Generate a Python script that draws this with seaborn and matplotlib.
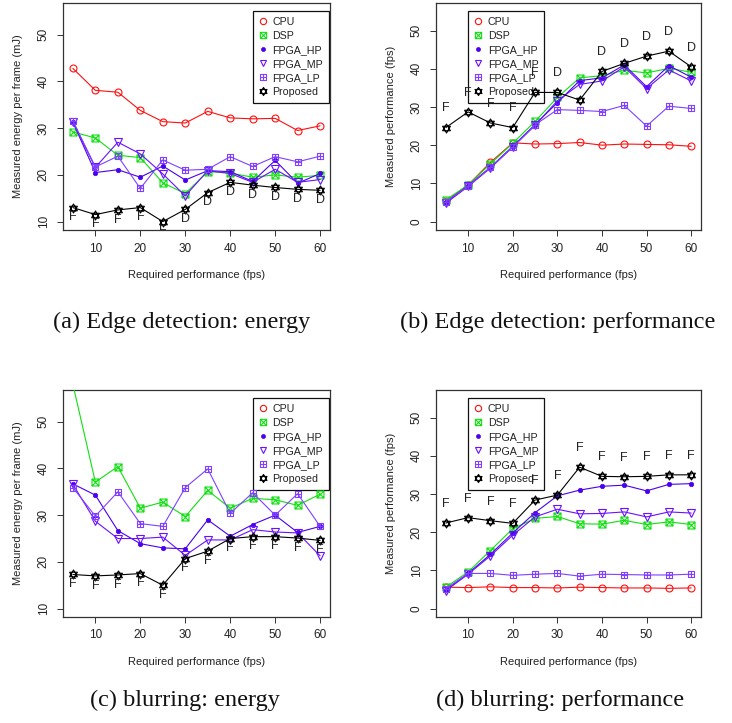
import numpy as np
import pandas as pd
import matplotlib
matplotlib.use("Agg")
import matplotlib.pyplot as plt
import seaborn as sns
from matplotlib.path import Path
from matplotlib.lines import Line2D

sns.set_style("white")
plt.rcParams['font.family'] = ['Liberation Sans', 'DejaVu Sans']

# ---------------- data ----------------
fps = [5, 10, 15, 20, 25, 30, 35, 40, 45, 50, 55, 60]
series_names = ["CPU", "DSP", "FPGA_HP", "FPGA_MP", "FPGA_LP", "Proposed"]

# (a) Edge detection: energy (mJ)
a_cpu = [42.8, 38.1, 37.7, 33.8, 31.4, 31.1, 33.6, 32.2, 32.0, 32.1, 29.5, 30.5]
a_dsp = [29.2, 27.9, 24.2, 23.7, 18.3, 16.0, 20.7, 20.4, 19.5, 20.0, 19.5, 19.9]
a_hp = [31.3, 20.5, 21.1, 19.5, 21.9, 18.9, 20.9, 20.7, 18.6, 23.1, 18.2, 20.3]
a_mp = [31.3, 21.6, 27.0, 24.5, 20.2, 15.5, 20.9, 20.3, 18.4, 21.2, 18.4, 19.0]
a_lp = [31.6, 21.7, 24.0, 17.1, 23.2, 21.0, 21.2, 23.9, 21.8, 23.9, 22.8, 24.0]
a_prop = [13.0, 11.5, 12.5, 13.0, 10.0, 12.6, 16.2, 18.4, 17.8, 17.3, 16.9, 16.7]
a_lbl = ["F", "F", "F", "F", "F", "D", "D", "D", "D", "D", "D", "D"]

# (b) Edge detection: performance (fps)
b_cpu = [5.3, 9.6, 15.5, 20.6, 20.3, 20.4, 20.7, 20.0, 20.3, 20.2, 20.1, 19.7]
b_dsp = [5.7, 9.6, 15.1, 20.5, 26.2, 32.5, 37.6, 38.2, 39.6, 38.9, 40.1, 39.1]
b_hp = [5.0, 9.4, 14.2, 19.7, 25.4, 31.1, 36.9, 37.6, 41.0, 35.3, 40.8, 37.8]
b_mp = [4.8, 9.2, 14.0, 19.5, 25.2, 31.6, 35.9, 36.8, 40.5, 34.8, 39.7, 36.8]
b_lp = [5.2, 9.3, 14.2, 19.5, 25.3, 29.3, 29.1, 28.8, 30.4, 25.0, 30.2, 29.6]
b_prop = [24.6, 28.7, 25.8, 24.6, 33.8, 33.8, 31.8, 39.3, 41.4, 43.3, 44.6, 40.5]
b_lbl = ["F", "F", "F", "F", "F", "D", "", "D", "D", "D", "D", "D"]

# (c) blurring: energy (mJ)  (CPU lies above the visible range)
c_cpu = [75.0, 72.0, 70.0, 68.0, 66.0, 65.0, 64.0, 63.0, 63.0, 62.0, 62.0, 62.0]
c_dsp = [58.0, 37.1, 40.4, 31.5, 32.8, 29.7, 35.3, 31.5, 33.6, 33.3, 32.1, 34.5]
c_hp = [36.7, 34.3, 26.7, 23.9, 23.0, 22.8, 29.0, 25.5, 28.0, 30.0, 26.3, 27.6]
c_mp = [36.6, 28.7, 25.0, 25.0, 25.3, 21.4, 24.7, 24.7, 26.9, 26.4, 26.2, 21.3]
c_lp = [35.9, 29.8, 35.0, 28.2, 27.6, 35.9, 39.9, 30.4, 34.8, 30.0, 34.6, 27.6]
c_prop = [17.3, 17.0, 17.2, 17.5, 15.0, 20.7, 22.3, 25.0, 25.4, 25.4, 25.1, 24.6]
c_lbl = ["F"] * 12

# (d) blurring: performance (fps)
d_cpu = [5.6, 5.5, 5.7, 5.5, 5.5, 5.4, 5.6, 5.5, 5.4, 5.4, 5.3, 5.4]
d_dsp = [5.6, 9.6, 15.2, 20.9, 23.6, 24.1, 22.2, 22.1, 23.1, 22.0, 22.7, 22.0]
d_hp = [4.8, 9.2, 14.2, 19.8, 25.1, 29.5, 31.0, 32.0, 32.3, 30.8, 32.5, 32.7]
d_mp = [4.7, 9.0, 13.8, 19.2, 24.0, 26.0, 24.8, 24.9, 25.3, 24.0, 25.3, 25.0]
d_lp = [5.2, 9.2, 9.2, 8.7, 9.0, 9.2, 8.5, 9.0, 8.9, 8.8, 8.8, 9.0]
d_prop = [22.4, 23.8, 23.0, 22.3, 28.4, 29.7, 37.0, 34.6, 34.5, 34.6, 35.0, 35.0]
d_lbl = ["F"] * 12

captions = ["(a) Edge detection: energy", "(b) Edge detection: performance",
            "(c) blurring: energy", "(d) blurring: performance"]
xlabel = "Required performance (fps)"
ylabels = ["Measured energy per frame (mJ)", "Measured performance (fps)",
           "Measured energy per frame (mJ)", "Measured performance (fps)"]

# ---------------- marker shapes ----------------
M, L, C = Path.MOVETO, Path.LINETO, Path.CLOSEPOLY
sq_v = [(-1, -1), (1, -1), (1, 1), (-1, 1), (-1, -1)]
sq_c = [M, L, L, L, C]
sq_x = Path(sq_v + [(-1, -1), (1, 1), (-1, 1), (1, -1)], sq_c + [M, L, M, L])
sq_plus = Path(sq_v + [(0, -1), (0, 1), (-1, 0), (1, 0)], sq_c + [M, L, M, L])
h = np.sqrt(3) / 2
tri_up = [(0, 1), (-h, -0.5), (h, -0.5), (0, 1)]
tri_dn = [(0, -1), (-h, 0.5), (h, 0.5), (0, -1)]
star_david = Path(tri_up + tri_dn, [M, L, L, C, M, L, L, C])

styles = {
    "CPU": dict(color="#FF1010", marker="o", ms=5.0, mfc="none", mew=0.8),
    "DSP": dict(color="#10E010", marker=sq_x, ms=5.0, mfc="none", mew=0.8),
    "FPGA_HP": dict(color="#4A00F0", marker="o", ms=3.2, mfc="#4A00F0", mew=0.5),
    "FPGA_MP": dict(color="#6A10FF", marker="v", ms=5.5, mfc="none", mew=0.8),
    "FPGA_LP": dict(color="#8040FF", marker=sq_plus, ms=5.0, mfc="none", mew=0.8),
    "Proposed": dict(color="#000000", marker=star_david, ms=6.5, mfc="none", mew=0.8),
}

panels = [
    dict(data=[a_cpu, a_dsp, a_hp, a_mp, a_lp, a_prop], lbl=a_lbl, ylim=(10, 55),
         yticks=[10, 20, 30, 40, 50], mode="below", leg="right"),
    dict(data=[b_cpu, b_dsp, b_hp, b_mp, b_lp, b_prop], lbl=b_lbl, ylim=(0, 55),
         yticks=[0, 10, 20, 30, 40, 50], mode="above", leg="left"),
    dict(data=[c_cpu, c_dsp, c_hp, c_mp, c_lp, c_prop], lbl=c_lbl, ylim=(10, 55),
         yticks=[10, 20, 30, 40, 50], mode="below", leg="right"),
    dict(data=[d_cpu, d_dsp, d_hp, d_mp, d_lp, d_prop], lbl=d_lbl, ylim=(0, 55),
         yticks=[0, 10, 20, 30, 40, 50], mode="above", leg="left"),
]

W, H = 732, 723
fig = plt.figure(figsize=(W / 100, H / 100), dpi=100)
fig.patch.set_facecolor("white")

# axes boxes in pixel coords (left, top, right, bottom)
boxes = [(63, 3, 330, 230), (436, 3, 701, 230), (63, 390, 330, 617), (436, 390, 701, 617)]
ylabel_x = [18, 391, 18, 391]
cap_pos = [(182, 322), (558, 322), (185, 700), (560, 700)]
txtc = "#222222"
fs = 8

for i, p in enumerate(panels):
    l, t, r, b = boxes[i]
    ax = fig.add_axes([l / W, 1 - b / H, (r - l) / W, (b - t) / H])
    for name, vals in zip(series_names, p["data"]):
        st = styles[name]
        df = pd.DataFrame({"fps": fps, "val": vals})
        sns.lineplot(data=df, x="fps", y="val", ax=ax, color=st["color"],
                     marker=st["marker"], markersize=st["ms"],
                     markerfacecolor=st["mfc"], markeredgecolor=st["color"],
                     markeredgewidth=st["mew"], linewidth=0.8, legend=False,
                     estimator=None, sort=False, zorder=3)
    prop = p["data"][5]
    for x, y, s in zip(fps, prop, p["lbl"]):
        if not s:
            continue
        if p["mode"] == "below":
            ax.annotate(s, (x, y), xytext=(0, -7), textcoords="offset points",
                        ha="center", va="center", fontsize=fs + 1, color=txtc,
                        clip_on=True, annotation_clip=False, zorder=4)
        else:
            ax.text(x, y + 5, s, ha="center", va="center", fontsize=fs + 1,
                    color=txtc, clip_on=True, zorder=4)
    lo, hi = p["ylim"]
    ax.set_ylim(lo - 0.04 * (hi - lo), hi + 0.04 * (hi - lo))
    ax.set_xlim(5 - 0.04 * 55, 60 + 0.04 * 55)
    ax.set_xticks([10, 20, 30, 40, 50, 60])
    ax.set_yticks(p["yticks"])
    ax.tick_params(direction="out", length=4.5, width=0.7, colors="#333333",
                   labelcolor=txtc, labelsize=fs + 0.5, pad=4)
    ax.tick_params(axis="x", bottom=True, pad=4.5)
    ax.tick_params(axis="y", left=True, labelrotation=90, pad=5)
    for lab in ax.get_yticklabels():
        lab.set_va("center")
    for sp in ax.spines.values():
        sp.set_visible(True)
        sp.set_color("#333333")
        sp.set_linewidth(0.9)
    ax.set_xlabel(xlabel, fontsize=fs, color=txtc)
    ax.set_ylabel(ylabels[i], fontsize=fs, color=txtc)
    ax.xaxis.set_label_coords(0.5, -(275 - 230) / 227)
    ax.xaxis.label.set_va("center")
    ax.yaxis.set_label_coords(-(l - ylabel_x[i]) / (r - l), 0.5)
    ax.yaxis.label.set_va("center")
    ax.yaxis.label.set_ha("center")

    handles = [Line2D([], [], linestyle="none", color=styles[n]["color"],
                      marker=styles[n]["marker"], markersize=styles[n]["ms"] * 0.9,
                      markerfacecolor=styles[n]["mfc"], markeredgecolor=styles[n]["color"],
                      markeredgewidth=styles[n]["mew"]) for n in series_names]
    if p["leg"] == "right":
        loc, anchor = "upper right", (0.996, 0.965)
    else:
        loc, anchor = "upper left", (0.121, 0.965)
    leg = ax.legend(handles, series_names, loc=loc, bbox_to_anchor=anchor,
                    fontsize=7.7, frameon=True, fancybox=False, framealpha=1,
                    edgecolor="#111111", facecolor="none", handlelength=0.8,
                    handletextpad=0.5, labelspacing=0.38, borderpad=0.55,
                    borderaxespad=0)
    fr = leg.get_frame()
    fr.set_linewidth(0.9)
    fr.set_facecolor("none")
    fr.set_edgecolor("#111111")
    for tx in leg.get_texts():
        tx.set_color(txtc)
    leg.set_zorder(2)

    cx, cy = cap_pos[i]
    fig.text(cx / W, 1 - cy / H, captions[i], ha="center", va="center",
             fontsize=17.5, family=["Liberation Serif", "DejaVu Serif"], color="#111111")

fig.savefig("out.png", dpi=100, facecolor="white")
